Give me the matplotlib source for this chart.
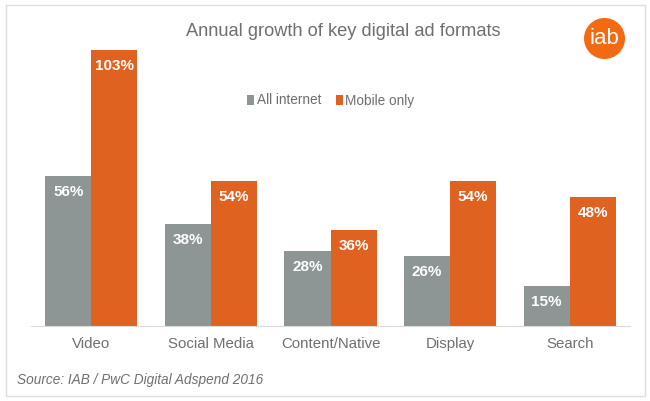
import numpy as np
import matplotlib
matplotlib.use('Agg')
import matplotlib.pyplot as plt
from matplotlib.patches import Rectangle, Ellipse

plt.rcParams['font.family'] = ['Liberation Sans', 'DejaVu Sans']

# values
categories = ['Video', 'Social Media', 'Content/Native', 'Display', 'Search']
all_internet = [56, 38, 28, 26, 15]
mobile_only = [103, 54, 36, 54, 48]

GREY = '#8D9695'
ORANGE = '#E06220'
TEXT = '#6F6F6F'

W, H = 650, 401
fig = plt.figure(figsize=(W / 100, H / 100), dpi=100)

# outer frame
fig.add_artist(Rectangle((5.5 / W, 1 - 396 / H), 639.5 / W, 391.5 / H, transform=fig.transFigure,
                         fill=False, edgecolor='#DEDEDE', linewidth=1))

# axes spans baseline to top of the tallest bar
ax = fig.add_axes([31.5 / W, 1 - 326 / H, 598 / W, 276 / H])
x = np.arange(len(categories))
width = 0.385
bars1 = ax.bar(x - width / 2, all_internet, width, color=GREY, label='All internet')
bars2 = ax.bar(x + width / 2, mobile_only, width, color=ORANGE, label='Mobile only')

ax.set_xlim(-0.5, 4.5)
ax.set_ylim(0, 103)
ax.set_yticks([])
ax.set_xticks(x)
ax.set_xticklabels(categories, fontsize=10.8, color=TEXT)
ax.tick_params(axis='x', length=0, pad=8)
for s in ['top', 'left', 'right']:
    ax.spines[s].set_visible(False)
ax.spines['bottom'].set_color('#DADADA')
ax.spines['bottom'].set_linewidth(0.8)

# value labels inside the top of each bar
for bars, vals in [(bars1, all_internet), (bars2, mobile_only)]:
    for b, v in zip(bars, vals):
        ax.annotate(f'{v}%', (b.get_x() + b.get_width() / 2, v), xytext=(0, -9),
                    textcoords='offset pixels', ha='center', va='top',
                    color='white', fontsize=11, fontweight='bold')

ax.legend(loc='center', bbox_to_anchor=(331 / W, 1 - 100.5 / H), bbox_transform=fig.transFigure,
          ncol=2, frameon=False, fontsize=9.8, labelcolor=TEXT, handlelength=0.5, handleheight=0.7,
          handletextpad=0.2, columnspacing=1.07)

fig.text(343 / W, 1 - 32 / H, 'Annual growth of key digital ad formats', ha='center', va='center',
         fontsize=13.15, color=TEXT)
fig.text(17 / W, 1 - 380 / H, 'Source: IAB / PwC Digital Adspend 2016', ha='left', va='center',
         fontsize=9.8, style='italic', color=TEXT)

# iab logo
fig.add_artist(Ellipse((604.5 / W, 1 - 38.5 / H), 41 / W, 41 / H, transform=fig.transFigure,
                       facecolor='#F26A12', edgecolor='none'))
fig.text(604.5 / W, 1 - 38 / H, 'iab', ha='center', va='center', fontsize=16, color='white')

fig.savefig('out.png', dpi=100)
